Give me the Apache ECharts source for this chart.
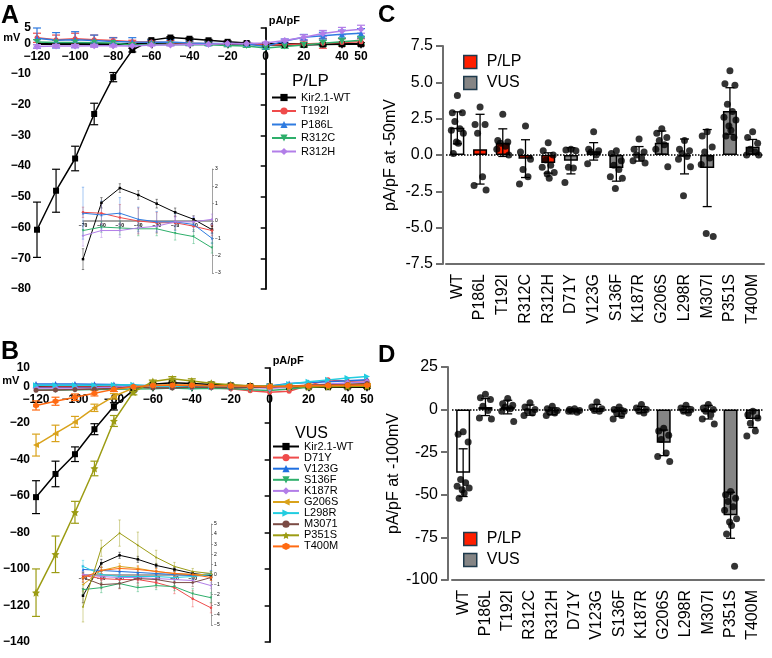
<!DOCTYPE html>
<html>
<head>
<meta charset="utf-8">
<script src="https://cdn.jsdelivr.net/npm/echarts@6/dist/echarts.min.js"></script>
<style>
html, body { margin: 0; padding: 0; background: #fff; }
#chart { width: 772px; height: 658px; }
</style>
</head>
<body>
<div id="chart"></div>
<script>
// ---- data ----
var voltages = [-120, -110, -100, -90, -80, -70, -60, -50, -40, -30, -20, -10, 0, 10, 20, 30, 40, 50]
var insetVoltages = [-70, -60, -50, -40, -30, -20, -10, 0]

// panel A (P/LP), pA/pF
var aWT = [-60.7, -48, -37.5, -23, -11, -2.2, 1.05, 1.9, 1.5, 1.0, 0.5, 0.1, -0.5, -0.5, -0.5, -0.4, -0.3, -0.3]
var aWTerr = [9, 7, 4, 3.5, 1.5, 0.6, 0.3, 0.3, 0.3, 0.3, 0.3, 0.3, 0.3, 0.3, 0.4, 0.4, 0.5, 0.5]
var aT192I = [1.8, 1.2, 1.5, 1.2, 0.9, 0.5, 0.45, 0.2, 0.0, -0.1, -0.1, -0.3, -0.55, -0.4, -0.2, 0.0, 0.3, 0.5]
var aT192Ierr = [1.5, 1.5, 1.8, 1.5, 1.0, 0.5, 0.5, 0.7, 0.5, 0.4, 0.3, 0.3, 0.3, 0.6, 1.0, 1.6, 1.2, 1.0]
var aP186L = [1.7, 1.0, 1.2, 0.9, 0.6, 0.45, 0.35, 0.45, 0.1, -0.05, -0.05, -0.2, -1.0, 0.8, 2.0, 2.5, 3.0, 3.3]
var aP186Lerr = [3.3, 2.5, 2.6, 1.8, 1.2, 1.4, 0.8, 0.8, 0.7, 0.6, 0.5, 0.4, 0.4, 0.6, 0.9, 1.1, 1.3, 1.5]
var aR312C = [0.4, 0.3, 0.3, 0.2, 0.1, -0.55, -0.35, -0.4, -0.45, -0.45, -0.7, -0.9, -1.55, -1.0, -0.5, 0.0, 0.5, 1.0]
var aR312Cerr = [0.8, 0.7, 0.7, 0.6, 0.5, 0.3, 0.3, 0.3, 0.3, 0.3, 0.4, 0.4, 0.4, 0.6, 0.8, 1.0, 1.2, 1.3]
var aR312H = [-1.0, -0.9, -0.9, -0.8, -0.8, -0.85, -0.55, -0.55, -0.4, -0.3, -0.05, -0.05, 0.1, 0.9, 2.0, 3.2, 4.0, 4.6]
var aR312Herr = [0.6, 0.5, 0.5, 0.5, 0.4, 0.3, 0.3, 0.3, 0.3, 0.3, 0.3, 0.3, 0.3, 0.5, 0.8, 1.0, 1.2, 1.3]

// panel A inset errors (-70..0 mV)
var iaWTerr = [0.6, 0.3, 0.25, 0.25, 0.25, 0.25, 0.2, 0.2]
var iaT192Ierr = [0.3, 0.6, 0.75, 0.75, 0.6, 0.4, 0.3, 0.3]
var iaP186Lerr = [1.5, 0.8, 0.9, 0.7, 0.6, 0.5, 0.4, 0.3]
var iaR312Cerr = [0.3, 0.3, 0.4, 0.4, 0.4, 0.4, 0.4, 0.3]
var iaR312Herr = [0.6, 0.4, 0.4, 0.3, 0.3, 0.3, 0.3, 0.3]

// panel B (VUS), pA/pF
var bWT = [-60.7, -48, -37.2, -23.5, -11, -2.1, 1.1, 1.9, 1.5, 0.9, 0.5, 0.1, -0.1, -0.3, -0.5, -0.5, -0.5, -0.5]
var bWTerr = [9, 7, 4, 3, 2, 0.6, 0.4, 0.3, 0.3, 0.2, 0.2, 0.2, 0.2, 0.3, 0.3, 0.4, 0.4, 0.5]
var bD71Y = [0.3, 0.2, 0.3, 0.2, 0.1, -0.1, -0.4, -0.5, -0.5, -0.8, -1.3, -2.4, -3.3, -2.7, 0.5, 3.5, 2.8, 3.0]
var bV123G = [1.3, 1.2, 1.2, 1.1, 1.0, 0.5, 0.4, 0.3, 0.2, 0.1, 0.0, -0.1, 0.1, 1.5, 2.0, 2.5, 3.0, 3.5]
var bS136F = [-2.0, -2.0, -1.9, -1.8, -1.7, -1.5, -1.3, -0.9, -1.3, -1.1, -1.2, -1.9, -2.3, -1.5, -0.5, 0.3, 0.8, 1.2]
var bK187R = [-1.0, -1.0, -0.9, -0.8, -0.5, 0.0, -0.2, -0.3, -0.3, -0.4, -0.5, -0.6, -1.1, -0.5, 0.5, 1.2, 1.8, 2.3]
var bG206S = [-32.2, -25.8, -19.5, -11.8, -5.5, -1.0, 0.4, 0.8, 0.6, 0.3, 0.1, 0.0, 0.0, 0.2, 0.4, 0.6, 0.8, 1.0]
var bG206Serr = [6, 4.5, 3, 2, 1.5, 0.6, 0.4, 0.4, 0.4, 0.3, 0.3, 0.3, 0.3, 0.3, 0.4, 0.4, 0.5, 0.5]
var bL298R = [0.5, 0.5, 0.5, 0.6, 0.7, 0.8, 0.0, -0.2, -0.2, -0.2, -0.3, -0.2, 0.0, 1.2, 2.5, 3.5, 4.5, 5.3]
var bM3071 = [-2.2, -2.0, -1.8, -1.5, -1.2, -0.3, -1.0, -0.9, -0.4, -0.5, -0.8, -0.8, -0.3, 0.0, 0.5, 0.8, 1.0, 1.5]
var bP351S = [-113, -92, -69, -45, -19, -3.2, 2.6, 4.1, 2.9, 1.7, 0.8, 0.3, 0.1, -0.2, -0.3, -0.2, -0.1, 0.0]
var bP351Serr = [13, 10, 6, 4, 3, 1.5, 0.8, 1.2, 1.2, 0.6, 0.4, 0.3, 0.2, 0.3, 0.3, 0.4, 0.4, 0.5]
var bT400M = [-10.5, -8.2, -6.0, -3.8, -1.7, -0.3, 0.4, 0.6, 0.5, 0.3, 0.1, 0.0, -0.3, 0.0, 0.3, 0.4, 0.5, 0.5]
var bT400Merr = [2.5, 2.2, 1.8, 1.5, 1.2, 0.4, 0.3, 0.3, 0.3, 0.3, 0.3, 0.3, 0.3, 0.3, 0.3, 0.3, 0.3, 0.3]

// panel B inset errors (-70..0 mV)
var ibWTerr = [0.7, 0.4, 0.3, 0.3, 0.2, 0.2, 0.2, 0.2]
var ibD71Yerr = [0.4, 0.5, 0.9, 0.6, 0.5, 0.6, 0.8, 0.5]
var ibV123Gerr = [0.4, 0.3, 0.3, 0.3, 0.3, 0.3, 0.3, 0.3]
var ibS136Ferr = [0.5, 0.5, 0.4, 0.4, 0.4, 0.4, 0.5, 0.5]
var ibK187Rerr = [0.3, 0.3, 0.3, 0.3, 0.3, 0.3, 0.3, 0.3]
var ibG206Serr = [0.6, 0.4, 0.3, 0.3, 0.3, 0.3, 0.3, 0.3]
var ibL298Rerr = [0.6, 0.3, 0.3, 0.3, 0.3, 0.3, 0.3, 0.3]
var ibM3071err = [0.5, 0.4, 0.5, 0.4, 0.4, 0.4, 0.4, 0.3]
var ibP351Serr = [1.5, 0.8, 1.3, 1.3, 0.7, 0.4, 0.3, 0.2]
var ibT400Merr = [0.4, 0.3, 0.3, 0.3, 0.3, 0.3, 0.3, 0.3]

// panels C and D
var variants = ['WT', 'P186L', 'T192I', 'R312C', 'R312H', 'D71Y', 'V123G', 'S136F', 'K187R', 'G206S', 'L298R', 'M307I', 'P351S', 'T400M']
var variantGroup = ['WT', 'P/LP', 'P/LP', 'P/LP', 'P/LP', 'VUS', 'VUS', 'VUS', 'VUS', 'VUS', 'VUS', 'VUS', 'VUS', 'VUS']

var meanC = [1.87, 0.4, 0.85, -0.25, -0.55, -0.4, 0.25, -0.9, 0.08, 0.85, -0.1, -0.9, 3.03, 0.57]
var sdC = [1.1, 2.4, 0.95, 1.3, 0.7, 0.9, 0.6, 0.9, 0.5, 0.8, 1.2, 2.65, 1.6, 0.5]
var dotsC = [
  [4.1, 2.9, 2.9, 2.3, 1.8, 1.7, 1.5, 0.9, 0.8, 0.1],
  [3.3, 2.1, 2.1, 1.5, -1.5, -2.1, -2.4],
  [2.8, 1.0, 0.9, 0.8, 0.6, 0.4, 0.0],
  [2.0, 0.2, -0.3, -1.0, -1.5, -2.0],
  [0.85, 0.3, 0.0, -0.35, -0.7, -0.85, -1.2, -1.3, -1.6],
  [0.4, 0.35, 0.3, -0.85, -0.9, -1.9],
  [1.6, 0.4, 0.3, 0.2, 0.0, -0.6],
  [0.3, 0.1, -0.4, -0.7, -1.0, -1.5, -1.6, -2.3],
  [1.1, 0.4, 0.2, 0.0, -0.2, -0.4, -0.55],
  [1.8, 1.5, 1.2, 1.0, 0.7, 0.4, -0.8],
  [1.0, 0.4, 0.3, 0.1, -0.1, -0.3, -0.8, -2.8],
  [1.6, 1.3, 0.55, 0.2, -0.2, -0.65, -5.6, -5.4],
  [5.8, 4.9, 4.8, 3.5, 3.0, 2.6, 2.4, 2.0, 1.7, 1.3, 1.2],
  [1.6, 1.2, 0.8, 0.4, 0.2, 0.0, 0.0]
]

var meanD = [-37, 1.5, 1.5, -0.3, -1.0, -0.5, 1.0, -1.5, 0.0, -19.5, 0.0, -1.5, -62, -5.5]
var sdD = [14, 5, 4, 3, 2, 0.8, 2, 2.5, 1.8, 7.5, 1.8, 4, 13.5, 5]
var dotsD = [
  [-13, -14.5, -19, -41, -43, -45, -46, -47, -49, -52],
  [9, 7, 6, 2, -0.5, -5, -5.5],
  [6.5, 3.5, 2.5, 1.5, 0.5, -1, -7],
  [4, 1.5, 0, -1, -2, -3.5],
  [2, 0.5, -0.5, -1.5, -2, -3.5],
  [0.5, 0, -0.5, -1, -1.5, -1],
  [4.5, 1.5, 0.5, -0.5, -1],
  [1.5, 0, -1, -2, -3.5, -5.5],
  [3, 1, 0, -1, -2],
  [-11, -12.5, -15, -17.5, -25.5, -27.5, -30.5],
  [2.5, 1, 0, -1, -2],
  [3, 1, 0, -1, -3, -5.5, -8.5],
  [-48, -50, -52, -54, -57, -59, -64, -66, -68, -73, -92],
  [-1, -3, -5, -8, -12.5, -15.5]
]

var ivTicksX = [-120, -100, -80, -60, -40, -20, 0, 20, 40, 50]
var aTicksY = [5, 0, -10, -20, -30, -40, -50, -60, -70, -80]
var bTicksY = [10, 0, -20, -40, -60, -80, -100, -120, -140]
var insetTicksX = [-70, -60, -50, -40, -30, -20, -10, 0]
var aInsetTicksY = [-3, -2, -1, 0, 1, 2, 3]
var bInsetTicksY = [-5, -4, -3, -2, -1, 0, 1, 2, 3, 4, 5]

// ---- styles ----
var FONT = 'Liberation Sans, Arial, Helvetica, sans-serif'
var STAR = 'path://M0,-10L2.9,-4L9.5,-3.1L4.7,1.5L5.9,8.1L0,5L-5.9,8.1L-4.7,1.5L-9.5,-3.1L-2.9,-4Z'
var HEX = 'path://M8.7,-5L8.7,5L0,10L-8.7,5L-8.7,-5L0,-10Z'
var styles = {
  'Kir2.1-WT': { color: '#000000', symbol: 'rect', size: 6 },
  'T192I': { color: '#ef4b4b', symbol: 'circle', size: 5 },
  'P186L': { color: '#2f7be0', symbol: 'triangle', size: 6 },
  'R312C': { color: '#2eaf6b', symbol: 'triangle', size: 6, rotate: 180 },
  'R312H': { color: '#b27ee8', symbol: 'diamond', size: 7 },
  'D71Y': { color: '#ef4b4b', symbol: 'circle', size: 5 },
  'V123G': { color: '#1f6fe0', symbol: 'triangle', size: 6 },
  'S136F': { color: '#2eaf6b', symbol: 'triangle', size: 6, rotate: 180 },
  'K187R': { color: '#b27ee8', symbol: 'diamond', size: 7 },
  'G206S': { color: '#d9a21b', symbol: 'triangle', size: 6, rotate: 90 },
  'L298R': { color: '#22cde0', symbol: 'triangle', size: 6, rotate: -90 },
  'M3071': { color: '#7b4b44', symbol: 'circle', size: 5 },
  'P351S': { color: '#9c9c14', symbol: STAR, size: 8 },
  'T400M': { color: '#ff6a12', symbol: HEX, size: 6 }
}
var groupFill = { 'WT': '#ffffff', 'P/LP': '#ff1f00', 'VUS': '#858585' }
var jitter = [0, -5, 5, -2.5, 2.5, -6, 6, -1, 1, -4, 4, 0]

// grid boxes: [left, top, width, height]
var boxA = [37, 28, 324, 261]
var boxAi = [83, 169, 129, 104]
var boxB = [30, 368, 337, 274]
var boxBi = [83, 524, 128, 101]

function minus(v) { return String(v).replace('-', '\u2212') }

function ivLine(name, values, axis, inset) {
  var st = styles[name]
  var xs = inset ? insetVoltages : voltages
  return {
    type: 'line', name: name, xAxisIndex: axis, yAxisIndex: axis,
    data: xs.map(function (v, i) { return [v, values[i]] }),
    symbol: st.symbol, symbolSize: inset ? 2.5 : st.size, symbolRotate: st.rotate || 0,
    lineStyle: { color: st.color, width: inset ? 1 : 1.5 },
    itemStyle: { color: st.color },
    emphasis: { disabled: true }, animation: false, z: inset ? 6 : 4
  }
}

function errBars(values, errs, axis, color, cap, width, xs, opacity) {
  return {
    type: 'custom', xAxisIndex: axis, yAxisIndex: axis, animation: false, silent: true,
    z: 3, encode: { x: 0, y: 1 },
    data: xs.map(function (v, i) { return [v, values[i], errs[i]] }),
    renderItem: function (params, api) {
      var x = api.value(0), y = api.value(1), e = api.value(2)
      var t = api.coord([x, y + e]), b = api.coord([x, y - e])
      var st = { stroke: color, lineWidth: width, opacity: opacity || 1 }
      return {
        type: 'group', children: [
          { type: 'line', shape: { x1: t[0], y1: t[1], x2: b[0], y2: b[1] }, style: st },
          { type: 'line', shape: { x1: t[0] - cap, y1: t[1], x2: t[0] + cap, y2: t[1] }, style: st },
          { type: 'line', shape: { x1: b[0] - cap, y1: b[1], x2: b[0] + cap, y2: b[1] }, style: st }
        ]
      }
    }
  }
}

// IV axes cross at the origin; the x axis is lifted from the grid bottom to y = 0
function ivAxes(grid, box, minX, maxX, minY, maxY, ticksX, ticksY, main, insetColor) {
  var lab = main
    ? { fontFamily: FONT, fontWeight: 'bold', fontSize: 12, color: '#000' }
    : { fontFamily: FONT, fontWeight: 'bold', fontSize: 5, color: '#000' }
  var lineCol = main ? '#000' : insetColor
  var lift = box[3] * (0 - minY) / (maxY - minY)
  var x = {
    type: 'value', gridIndex: grid, min: minX, max: maxX, position: 'bottom', offset: -lift,
    axisLine: { onZero: false, lineStyle: { color: lineCol, width: main ? 1.8 : 1.6 } },
    axisTick: { customValues: ticksX, length: main ? 5 : 2, lineStyle: { color: lineCol, width: main ? 1.5 : 0.8 } },
    axisLabel: Object.assign({ customValues: ticksX, formatter: minus, margin: main ? 7 : 2 }, lab),
    splitLine: { show: false }
  }
  var y = {
    type: 'value', gridIndex: grid, min: minY, max: maxY, position: main ? 'left' : 'right',
    axisLine: { onZero: true, lineStyle: { color: lineCol, width: main ? 1.8 : 0.8 } },
    axisTick: { customValues: ticksY, length: main ? 5 : 2, lineStyle: { color: lineCol, width: main ? 1.5 : 0.8 } },
    axisLabel: Object.assign({ customValues: ticksY, formatter: minus, margin: main ? 6 : 3 }, lab, main ? {} : { fontWeight: 'normal' }),
    splitLine: { show: false }
  }
  if (main) {
    x.name = 'mV'
    x.nameLocation = 'start'
    x.nameGap = 4
    x.nameTextStyle = { fontFamily: FONT, fontWeight: 'bold', fontSize: 11, color: '#000', verticalAlign: 'bottom', padding: [0, 0, 0, 0] }
    y.name = 'pA/pF'
    y.nameLocation = 'end'
    y.nameGap = 2
    y.nameTextStyle = { fontFamily: FONT, fontWeight: 'bold', fontSize: 11, color: '#000', align: 'left', padding: [0, 0, 0, 3] }
  }
  return { x: x, y: y }
}

function barAxes(grid, minY, maxY, interval, name, fmt, yOffset, nameGap) {
  var axisCol = '#6e6e6e'
  return {
    x: {
      type: 'category', gridIndex: grid, data: variants,
      axisLine: { onZero: false, lineStyle: { color: axisCol, width: 2 } },
      axisTick: { alignWithLabel: true, length: 7, lineStyle: { color: axisCol, width: 2 } },
      axisLabel: { rotate: 90, interval: 0, fontFamily: FONT, fontSize: 16, color: '#000', margin: 10 }
    },
    y: {
      type: 'value', gridIndex: grid, min: minY, max: maxY, interval: interval, offset: yOffset,
      name: name, nameLocation: 'middle', nameGap: nameGap,
      nameTextStyle: { fontFamily: FONT, fontSize: 16, color: '#000' },
      axisLine: { show: true, lineStyle: { color: axisCol, width: 2 } },
      axisTick: { show: true, length: 7, lineStyle: { color: axisCol, width: 2 } },
      axisLabel: { fontFamily: FONT, fontSize: 16, color: '#000', margin: 10, formatter: fmt },
      splitLine: { show: false }
    }
  }
}

function barSeries(means, axis) {
  return ['WT', 'P/LP', 'VUS'].map(function (g, k) {
    var s = {
      type: 'bar', name: g, xAxisIndex: axis, yAxisIndex: axis, barWidth: 14, barGap: '-100%',
      data: means.map(function (m, i) { return variantGroup[i] === g ? m : '-' }),
      itemStyle: { color: groupFill[g], borderColor: '#000', borderWidth: 1.5 },
      emphasis: { disabled: true }, animation: false, z: 2
    }
    if (k === 0) {
      s.markLine = {
        silent: true, symbol: ['none', 'none'], label: { show: false }, animation: false,
        lineStyle: { type: 'dotted', color: '#000', width: 1.5 },
        data: [{ yAxis: 0 }]
      }
    }
    return s
  })
}

function dotSeries(dots, axis) {
  var data = []
  dots.forEach(function (list, i) {
    list.forEach(function (v, j) {
      data.push({ value: [i, v], symbolOffset: [jitter[j % jitter.length], 0] })
    })
  })
  return {
    type: 'scatter', xAxisIndex: axis, yAxisIndex: axis, data: data,
    symbol: 'circle', symbolSize: 7, itemStyle: { color: '#000' },
    emphasis: { disabled: true }, animation: false, z: 5
  }
}

function barErr(means, sds, axis) {
  return errBars(means, sds, axis, '#000', 4.5, 1.3, variants.map(function (v, i) { return i }))
}

// ---- axes ----
var axA = ivAxes(0, boxA, -120, 50, -80, 5, ivTicksX, aTicksY, true)
var axAi = ivAxes(1, boxAi, -70, 0, -3, 3, insetTicksX, aInsetTicksY, false, '#8a8a8a')
var axB = ivAxes(2, boxB, -120, 50, -140, 10, ivTicksX, bTicksY, true)
var axBi = ivAxes(3, boxBi, -70, 0, -5, 5, insetTicksX, bInsetTicksY, false, '#8a8a8a')
var axC = barAxes(4, -7.5, 7.5, 2.5, 'pA/pF at -50mV', function (v) { return v.toFixed(1) }, 3, 44)
var axD = barAxes(5, -100, 25, 25, 'pA/pF at -100mV', function (v) { return String(v) }, 4, 44)

// ---- series ----
var series = []
var aSet = [['Kir2.1-WT', aWT, aWTerr, iaWTerr], ['T192I', aT192I, aT192Ierr, iaT192Ierr],
  ['P186L', aP186L, aP186Lerr, iaP186Lerr], ['R312C', aR312C, aR312Cerr, iaR312Cerr],
  ['R312H', aR312H, aR312Herr, iaR312Herr]]
aSet.forEach(function (s) {
  var c = styles[s[0]].color
  series.push(ivLine(s[0], s[1], 0, false))
  series.push(errBars(s[1], s[2], 0, c, 4, 1.2, voltages))
})
var bSet = [['Kir2.1-WT', bWT, bWTerr, ibWTerr], ['D71Y', bD71Y, null, ibD71Yerr],
  ['V123G', bV123G, null, ibV123Gerr], ['S136F', bS136F, null, ibS136Ferr],
  ['K187R', bK187R, null, ibK187Rerr], ['G206S', bG206S, bG206Serr, ibG206Serr],
  ['L298R', bL298R, null, ibL298Rerr], ['M3071', bM3071, null, ibM3071err],
  ['P351S', bP351S, bP351Serr, ibP351Serr], ['T400M', bT400M, bT400Merr, ibT400Merr]]
bSet.forEach(function (s) {
  var c = styles[s[0]].color
  series.push(ivLine(s[0], s[1], 2, false))
  if (s[2]) series.push(errBars(s[1], s[2], 2, c, 4, 1.2, voltages))
})
// insets (values -70..0 mV of the main curves)
aSet.forEach(function (s) {
  var v = s[1].slice(5, 13)
  series.push(ivLine(s[0], v, 1, true))
  series.push(errBars(v, s[3], 1, styles[s[0]].color, 1.2, 0.8, insetVoltages, 0.55))
})
bSet.forEach(function (s) {
  var v = s[1].slice(5, 13)
  series.push(ivLine(s[0], v, 3, true))
  series.push(errBars(v, s[3], 3, styles[s[0]].color, 1.2, 0.8, insetVoltages, 0.55))
})
// bar panels
series = series.concat(barSeries(meanC, 4))
series.push(barErr(meanC, sdC, 4))
series.push(dotSeries(dotsC, 4))
series = series.concat(barSeries(meanD, 5))
series.push(barErr(meanD, sdD, 5))
series.push(dotSeries(dotsD, 5))

var legendText = { fontFamily: FONT, fontSize: 11, color: '#000' }
var barLegend = function (top) {
  return {
    data: ['P/LP', 'VUS'], orient: 'vertical', left: 463, top: top, padding: 0, icon: 'rect',
    itemWidth: 13, itemHeight: 13, itemGap: 5, selectedMode: false,
    itemStyle: { borderColor: '#1e3a4c', borderWidth: 1.5 },
    textStyle: { fontFamily: FONT, fontSize: 16, color: '#000', padding: [0, 0, 0, 5] }
  }
}

var option = {
  backgroundColor: '#fff',
  animation: false,
  textStyle: { fontFamily: FONT },
  grid: [boxA, boxAi, boxB, boxBi, [446, 46, 318, 218], [452, 367, 312, 213]].map(function (b) {
    return { left: b[0], top: b[1], width: b[2], height: b[3] }
  }),
  xAxis: [axA.x, axAi.x, axB.x, axBi.x, axC.x, axD.x],
  yAxis: [axA.y, axAi.y, axB.y, axBi.y, axC.y, axD.y],
  legend: [
    {
      data: ['Kir2.1-WT', 'T192I', 'P186L', 'R312C', 'R312H'], orient: 'vertical', padding: 0,
      left: 271, top: 92, itemWidth: 24, itemHeight: 9, itemGap: 2.5, selectedMode: false,
      textStyle: legendText
    },
    {
      data: ['Kir2.1-WT', 'D71Y', 'V123G', 'S136F', 'K187R', 'G206S', 'L298R', 'M3071', 'P351S', 'T400M'],
      orient: 'vertical', padding: 0, left: 272, top: 441, itemWidth: 26, itemHeight: 9, itemGap: 0.1, selectedMode: false,
      textStyle: legendText
    },
    barLegend(54),
    barLegend(531)
  ],
  graphic: [
    { type: 'text', left: 1, top: 4, style: { text: 'A', font: 'bold 25px ' + FONT, fill: '#000' } },
    { type: 'text', left: 1, top: 340, style: { text: 'B', font: 'bold 25px ' + FONT, fill: '#000' } },
    { type: 'text', left: 378, top: 3, style: { text: 'C', font: 'bold 24px ' + FONT, fill: '#000' } },
    { type: 'text', left: 378, top: 343, style: { text: 'D', font: 'bold 24px ' + FONT, fill: '#000' } },
    { type: 'text', left: 292, top: 73, style: { text: 'P/LP', font: '17px ' + FONT, fill: '#000' } },
    { type: 'text', left: 295, top: 426, style: { text: 'VUS', font: '16px ' + FONT, fill: '#000' } }
  ],
  series: series
}

var chart = echarts.init(document.getElementById('chart'))
chart.setOption(option)
</script>
</body>
</html>
